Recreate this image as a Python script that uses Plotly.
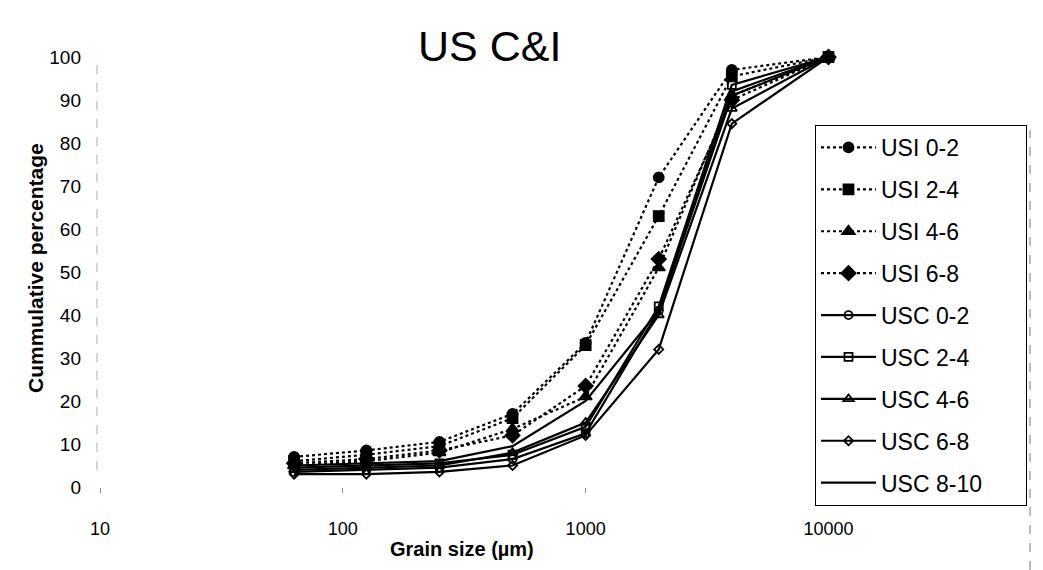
import plotly.graph_objects as go

# Data
sizes = [63, 125, 250, 500, 1000, 2000, 4000, 10000]

usi_0_2 = [7.0, 8.5, 10.5, 17.0, 33.5, 72.0, 97.0, 100]
usi_2_4 = [6.0, 7.5, 9.5, 16.0, 33.0, 63.0, 95.5, 100]
usi_4_6 = [5.0, 6.0, 8.0, 13.5, 21.0, 51.0, 91.0, 100]
usi_6_8 = [5.5, 6.5, 8.5, 12.0, 23.5, 53.0, 90.0, 100]
usc_0_2 = [3.5, 4.0, 4.5, 6.5, 12.5, 41.0, 91.0, 100]
usc_2_4 = [4.5, 5.0, 5.5, 7.5, 14.0, 42.0, 93.5, 100]
usc_4_6 = [4.0, 4.5, 5.0, 8.0, 15.0, 40.0, 88.0, 100]
usc_6_8 = [3.0, 3.0, 3.5, 5.0, 12.0, 32.0, 84.5, 100]
usc_8_10 = [5.0, 5.5, 6.0, 9.5, 20.0, 41.0, 92.0, 100]

series_names = ["USI 0-2", "USI 2-4", "USI 4-6", "USI 6-8",
                "USC 0-2", "USC 2-4", "USC 4-6", "USC 6-8", "USC 8-10"]
series_values = [usi_0_2, usi_2_4, usi_4_6, usi_6_8,
                 usc_0_2, usc_2_4, usc_4_6, usc_6_8, usc_8_10]
series_symbols = ["circle", "square", "triangle-up", "diamond",
                  "circle-open", "square-open", "triangle-up-open", "diamond-open", None]
series_dash = ["dot", "dot", "dot", "dot", "solid", "solid", "solid", "solid", "solid"]
series_msize = [10, 10, 11, 11, 8, 8, 9, 7, 0]

x_tickvals = [10, 100, 1000, 10000]
x_ticktext = ["10", "100", "1000", "10000"]
y_tickvals = [0, 10, 20, 30, 40, 50, 60, 70, 80, 90, 100]

FONT = "Liberation Sans, Arial, sans-serif"
PAD = "\u00a0" * 6  # widens the legend box to match the reference

# screen geometry of the plot area (page has an 8px body margin)
PL, PR, PT, PB = 100, 1030, 57, 487


def px_x(x):
    return (x - PL) / (PR - PL)


def px_y(y):
    return (PB - y) / (PB - PT)


fig = go.Figure()
for i, (name, vals, sym, dash, ms) in enumerate(zip(series_names, series_values,
                                                     series_symbols, series_dash, series_msize)):
    if sym is None:
        mode = "lines"
        marker = dict()
    else:
        mode = "lines+markers"
        marker = dict(symbol=sym, size=ms, color="black",
                      line=dict(color="black", width=1.8))
    fig.add_trace(go.Scatter(
        x=sizes, y=vals, name=name + PAD, mode=mode,
        line=dict(color="black", width=2.2, dash=dash),
        marker=marker, legendgroup="g%d" % i, cliponaxis=False,
    ))

fig.update_layout(
    width=1043, height=570,
    margin=dict(l=92, r=21, t=49, b=91),
    paper_bgcolor="white", plot_bgcolor="white",
    font=dict(family=FONT, color="black", size=17),
    showlegend=True,
    legend=dict(
        x=px_x(815), y=px_y(125), xanchor="left", yanchor="top",
        bgcolor="white", bordercolor="black", borderwidth=1,
        font=dict(family=FONT, size=23, color="black"),
        tracegroupgap=9, itemwidth=55,
    ),
    xaxis=dict(
        type="log", range=[1, 4.83],
        tickvals=x_tickvals, ticktext=x_ticktext,
        showgrid=False, zeroline=False, showline=False,
        ticks="outside", ticklen=5, tickcolor="#888",
        ticklabelstandoff=20,
        tickfont=dict(family=FONT, size=18),
    ),
    yaxis=dict(
        range=[0, 100], tickvals=y_tickvals,
        showgrid=False, zeroline=False, showline=False,
        ticks="", ticklabelstandoff=18,
        tickfont=dict(family=FONT, size=19),
    ),
    annotations=[
        dict(text="US C&I", x=px_x(489), y=px_y(46), xref="paper", yref="paper",
             xanchor="center", yanchor="middle", showarrow=False,
             font=dict(family=FONT, size=43)),
        dict(text="<b>Grain size (µm)</b>", xref="paper", yref="paper",
             x=px_x(462), y=px_y(549),
             xanchor="center", yanchor="middle", showarrow=False,
             font=dict(family=FONT, size=20)),
        dict(text="<b>Cummulative percentage</b>", xref="paper", yref="paper",
             x=px_x(35), y=px_y(268), textangle=-90,
             xanchor="center", yanchor="middle", showarrow=False,
             font=dict(family=FONT, size=21)),
    ],
    shapes=[
        dict(type="line", xref="paper", yref="paper", x0=px_x(97), x1=px_x(97),
             y0=px_y(470), y1=px_y(62),
             line=dict(color="#aaa", width=1, dash="dash")),
        dict(type="line", xref="paper", yref="paper", x0=px_x(1030), x1=px_x(1030),
             y0=px_y(570), y1=px_y(130),
             line=dict(color="#777", width=1, dash="dash")),
        dict(type="line", xref="paper", yref="paper", x0=px_x(3), x1=px_x(1040),
             y0=px_y(2), y1=px_y(2), line=dict(color="#888", width=1)),
        dict(type="line", xref="paper", yref="paper", x0=px_x(3), x1=px_x(3),
             y0=px_y(2), y1=px_y(570), line=dict(color="#888", width=1)),
    ],
)

fig.write_html("out.html")
